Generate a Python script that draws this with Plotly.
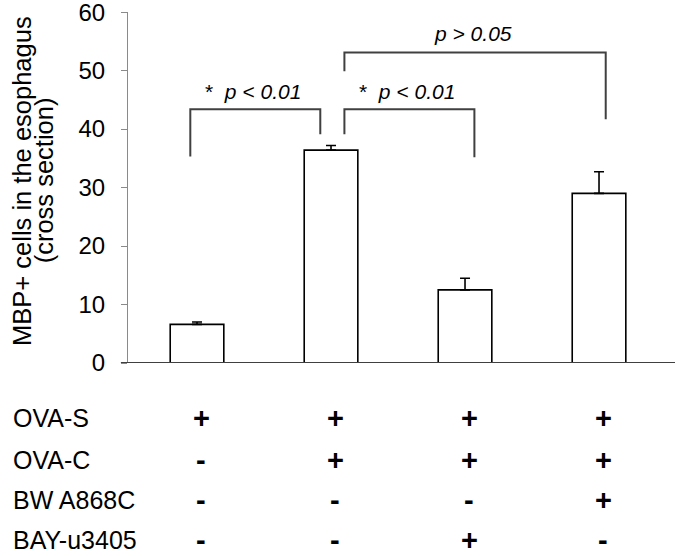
import plotly.graph_objects as go

# ---- data ----
groups = [0, 1, 2, 3]
mbp_mean = [6.6, 36.4, 12.5, 29.0]
mbp_err = [0.4, 0.8, 2.0, 3.7]
y_ticks = [0, 10, 20, 30, 40, 50, 60]

row_labels = ["OVA-S", "OVA-C", "BW A868C", "BAY-u3405"]
ova_s = ["+", "+", "+", "+"]
ova_c = ["-", "+", "+", "+"]
bw_a868c = ["-", "-", "-", "+"]
bay_u3405 = ["-", "-", "+", "-"]

# comparison brackets
cmp_left = [-0.05, 1.10, 1.10]
cmp_right = [0.92, 2.07, 3.05]
cmp_left_bottom = [35.3, 39.1, 49.9]
cmp_right_bottom = [39.1, 35.2, 41.7]
cmp_top = [43.4, 43.4, 53.1]
cmp_text = ["*  <i>p < 0.01</i>", "*  <i>p < 0.01</i>", "<i>p > 0.05</i>"]
cmp_text_x = [0.42, 1.57, 2.06]
cmp_text_y = [46.4, 46.4, 56.4]

FONT = "Liberation Sans, Arial, sans-serif"

fig = go.Figure()
fig.add_trace(go.Bar(
    x=groups, y=mbp_mean, width=0.4,
    marker=dict(color="white", line=dict(color="black", width=1.6)),
    error_y=dict(type="data", symmetric=False, array=mbp_err,
                 arrayminus=[0] * len(mbp_err), color="black",
                 thickness=1.6, width=5),
    showlegend=False, hoverinfo="skip",
))

shapes = []
for i in range(len(cmp_left)):
    shapes.append(dict(
        type="path",
        path=(f"M {cmp_left[i]},{cmp_left_bottom[i]} L {cmp_left[i]},{cmp_top[i]} "
              f"L {cmp_right[i]},{cmp_top[i]} L {cmp_right[i]},{cmp_right_bottom[i]}"),
        xref="x", yref="y", line=dict(color="#404040", width=2)))
# baseline
shapes.append(dict(type="line", xref="paper", yref="y", x0=-0.013, x1=1.0, y0=0, y1=0,
                   line=dict(color="#404040", width=2)))

annotations = []
for i in range(len(cmp_text)):
    annotations.append(dict(x=cmp_text_x[i], y=cmp_text_y[i], xref="x", yref="y",
                            xanchor="center", yanchor="middle",
                            text=cmp_text[i], showarrow=False,
                            font=dict(family=FONT, size=21, color="black")))

# y-axis title lines
annotations.append(dict(x=-0.193, y=0.52, xref="paper", yref="paper",
                        xanchor="center", yanchor="middle",
                        text="MBP+ cells in the esophagus", textangle=-90,
                        showarrow=False, font=dict(family=FONT, size=25.5, color="black")))
annotations.append(dict(x=-0.152, y=0.52, xref="paper", yref="paper",
                        xanchor="center", yanchor="middle",
                        text="(cross section)", textangle=-90,
                        showarrow=False, font=dict(family=FONT, size=25.5, color="black")))

# condition table
rows = [ova_s, ova_c, bw_a868c, bay_u3405]
row_y = [-0.158, -0.276, -0.391, -0.503]
for r, (lab, vals) in enumerate(zip(row_labels, rows)):
    annotations.append(dict(x=-0.212, y=row_y[r], xref="paper", yref="paper",
                            xanchor="left", yanchor="middle", text=lab, showarrow=False,
                            borderpad=0,
                            font=dict(family=FONT, size=25, color="black")))
    for g, v in zip(groups, vals):
        annotations.append(dict(x=g + 0.03, y=row_y[r], xref="x", yref="paper",
                                xanchor="center", yanchor="middle", text=f"<b>{v}</b>",
                                showarrow=False, borderpad=0,
                                font=dict(family=FONT, size=29, color="black")))

fig.update_layout(
    width=675, height=556,
    margin=dict(l=128, r=0, t=12, b=193, autoexpand=False),
    plot_bgcolor="white", paper_bgcolor="white",
    shapes=shapes, annotations=annotations,
    xaxis=dict(range=[-0.515, 3.567], showticklabels=False, showgrid=False,
               zeroline=False, showline=False, ticks="", automargin=False),
    yaxis=dict(range=[0, 60.02], tickvals=y_ticks, showgrid=False, zeroline=False,
               showline=True, linecolor="#8a8a8a", linewidth=1,
               ticks="outside", ticklen=6, tickcolor="#8a8a8a", tickwidth=1,
               ticklabelstandoff=11, ticklabeloverflow="allow", automargin=False,
               tickfont=dict(family=FONT, size=24, color="black")),
)

fig.write_html("out.html", config={"displayModeBar": False},
               post_script="document.body.style.margin='0';")
